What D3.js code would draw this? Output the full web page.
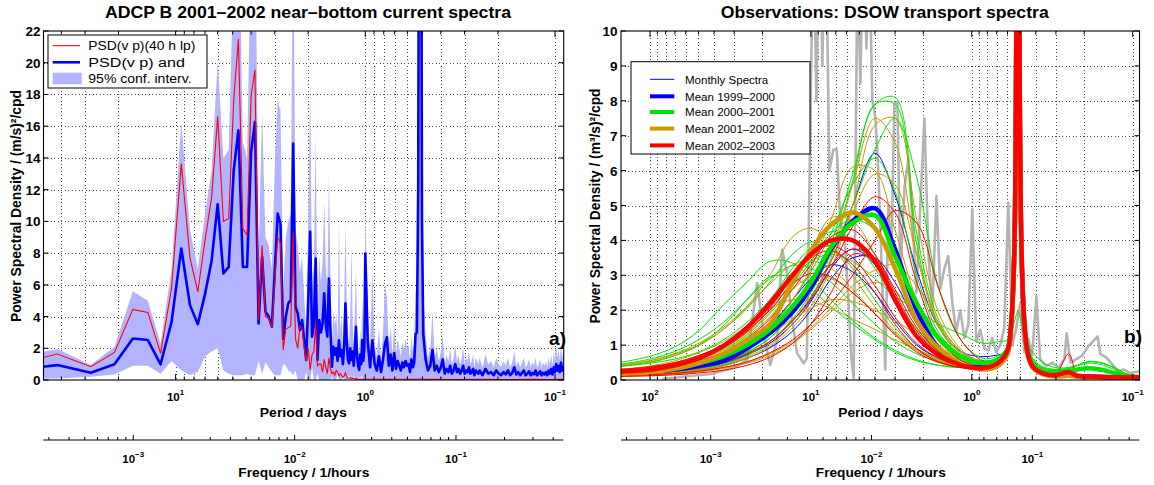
<!DOCTYPE html>
<html><head><meta charset="utf-8">
<script src="https://cdn.jsdelivr.net/npm/d3@7"></script>
<style>
body{margin:0;background:#fff;}
svg text{font-family:"Liberation Sans", Arial, Helvetica, sans-serif;}
</style></head><body>
<svg id="c" width="1154" height="485"></svg>
<script>
// ====================== DATA ======================
// ---- Panel a) ADCP B: FFT bins k=1..84 (bin step 1/84 cpd) ----
const adcpBinStepCpd = 1 / 84;
const adcpBlueLow = [0.52,0.94,0.46,0.99,2.62,2.52,0.99,3.67,8.29,4.72,
 3.52,5.4,7.5,11.08,6.72,7.13,13.2,15.74,7.13,7.13,
 14.37,16.26,3.57,7.76,4.3,4.0,3.36,6.9,10.49,9.86,
 2.6,4.0,4.83,5.04,14.9,4.6,4.2,3.15,3.78,2.52,
 1.26,5.0,9.34,2.73,3.5,7.66,1.26,3.78,3.0,3.57,
 5.46,3.5,2.73,6.4,3.2,0.84,2.1,1.6,2.0,1.2,
 2.5,1.5,1.89,1.0,2.2,4.83,2.5,1.3,1.05,2.0,
 1.26,1.8,0.9,2.1,3.36,1.5,0.9,0.63,1.6,1.0,
 2.52,1.2,2.0,7.97];
const adcpRedLow = [0.77,1.64,0.84,1.74,4.45,4.26,1.68,5.8,13.64,7.7,
 5.56,8.8,11.5,16.6,10.0,10.17,17.6,21.5,9.55,9.13,
 17.9,19.56,3.8,8.5,4.0,3.9,3.3,6.2,9.0,8.6,
 1.9,3.2,3.3,3.4,9.3,2.6,2.0,3.4,3.3,2.0,
 1.2,2.0,0.63,1.6,1.8,3.6,0.9,1.0,1.0,0.5,
 1.3,0.8,0.4,1.4,0.7,0.4,0.5,0.3,0.6,0.5,
 0.25,0.4,0.3,0.15,0.25,0.45,0.2,0.12,0.1,0.15,
 0.1,0.12,0.08,0.06,0.1,0.06,0.05,0.04,0.05,0.04,
 0.04,0.03,0.05,0.05];
const adcpCiUpLow = [1.3,1.95,0.95,2.1,5.6,5.0,2.3,7.0,16.26,9.5,
 7.0,10.5,13.2,20.1,14.0,14.5,26,31,15,14,
 28,32,7.5,16.9,9.0,8.5,7.0,13.5,17.6,17.0,
 5.5,9.0,10.0,10.5,30,9.5,8.5,6.8,7.8,5.3,
 2.8,10.0,18.6,5.8,7.2,15.5,2.8,7.8,6.2,7.4,
 11.2,7.2,5.8,13.0,6.6,1.9,4.4,3.4,4.2,2.6,
 10.1,3.1,3.9,2.2,4.5,9.9,5.1,2.8,2.3,4.1,
 8.5,3.7,2.0,4.3,6.9,3.1,2.0,1.5,3.3,2.1,
 5.2,2.5,4.0,10.5];
const adcpCiLoLow = [0,0.1,0.2,0.35,0.9,0.9,0.4,1.2,0.6,0.3,
 0.5,1.5,1.8,2.0,0.6,0.4,0.3,0.3,0.3,0.4,
 0.3,0.3,1.2,0.4,1.1,0.8,0.5,0.3,0.3,0.3,
 1.0,0.9,0.6,0.5,0.3,0.6,0,0,0,0,
 0.5,0,0,0.8,0,0,0.4,0,0,0,
 0,0,0,0,0,0.2,0,0,0,0.4,
 0,0,0,0.3,0,0,0,0,0.3,0,
 0,0,0.3,0,0,0,0,0.2,0,0.3,
 0,0,0,0];
// tail above 1 cpd: frequencies (cpd) 1.03..1.99 step .03, 2.02..3.94 step .06, 4.0..11.2 step .15
const adcpTailFreq = [
  ...d3.range(33).map(i => 1.03 + 0.03 * i),
  ...d3.range(33).map(i => 2.02 + 0.06 * i),
  ...d3.range(49).map(i => 4.0 + 0.15 * i)];
const adcpBlueTail = [
 2.4,0.8,2.5,1.0,0.6,1.5,0.5,1.3,2.3,2.7, 0.9,1.6,0.6,1.7,0.7,1.2,0.9,0.6,1.1,0.8,
 1.2,0.9,1.0,0.5,1.3,0.8,1.1,2.9,3.0,12, 45,45,10,
 2.9,1.3,0.6,0.9,1.9,0.6,0.9,0.5,0.8,1.3, 0.4,0.7,0.5,0.9,0.4,0.6,1.0,0.5,0.7,0.4,
 0.6,0.9,0.4,0.6,0.5,0.8,0.4,0.5,0.7,0.3, 0.6,0.5,0.4,
 0.6,0.3,0.7,0.4,0.5,0.3,0.6,0.4,0.3,0.5, 0.35,0.6,0.3,0.45,0.8,0.35,0.5,0.3,0.45,0.6,
 0.3,0.4,0.55,0.3,0.45,0.35,0.6,0.3,0.4,0.55, 0.3,0.45,0.35,0.5,0.3,0.6,0.4,0.7,0.35,0.8,
 0.5,1.0,0.6,0.9,0.5,1.1,0.6,0.8,0.5];
const adcpCiUpTail = [
 4.5,2.0,7.0,2.2,1.5,3.3,1.3,3.0,6.0,5.2, 2.0,3.4,1.6,3.6,1.7,2.6,2.0,1.5,2.4,1.9,
 2.6,2.0,2.2,1.3,2.8,1.8,2.4,5.6,6.0,24, 60,60,20,
 5.5,2.8,1.4,2.0,4.3,1.4,2.0,1.2,1.8,2.8, 1.0,1.6,1.2,2.0,1.0,1.4,2.2,1.2,1.6,1.0,
 1.4,2.0,1.0,1.4,1.2,1.8,1.0,1.2,1.6,0.8, 1.4,1.2,1.0,
 1.4,0.8,1.6,1.0,1.2,0.8,1.4,1.0,0.8,1.2, 0.9,1.4,0.8,1.1,1.8,0.9,1.2,0.8,1.1,1.4,
 0.8,1.0,1.3,0.8,1.1,0.9,1.4,0.8,1.0,1.3, 0.8,1.1,0.9,1.2,0.8,1.4,1.0,1.6,0.9,1.8,
 1.2,2.1,1.4,2.0,1.2,2.3,1.4,1.8,1.2];
const adcpRedTailFreq = [1.02,1.3,1.7,2.2,3,4,5.5,7.5,9.5,11.2];
const adcpRedTail = [0.05,0.04,0.05,0.04,0.03,0.04,0.03,0.04,0.03,0.04];

// ---- Panel b) DSOW transport spectra ----
const dsowRawPeriod = [84,60,42,30,24.9,21.6,19.6,17.9,16.2,15.1,14.1,13.1,12.2,11.1,10.6,10.07,9.65,9.24,8.85,8.49,
 8.13,7.68,7.25,6.9,6.56,6.19,5.85,5.6,5.42,5.14,4.93,4.72,4.52,4.33,4.15,3.97,3.81,3.65,3.45,3.3,
 3.16,3.03,2.9,2.78,2.62,2.48,2.34,2.21,2.09,1.97,1.86,1.76,1.66,1.57,1.48,1.4,1.32,1.25,1.18,1.11,
 1.05,0.993,0.938,0.885,0.836,0.79,0.746,0.705,0.665,0.628,0.593,0.56,0.529,0.5,0.472,0.446,0.421,0.397,0.376,0.345,
 0.316,0.29,0.266,0.257,0.244,0.224,0.206,0.189,0.173,0.165,0.159,0.146,0.134,0.123,0.113,0.104,0.0912];
const dsowRawPsd = [0.03,0.1,0.17,0.35,0.58,2.78,1.25,0.43,1.15,3.74,3.07,1.73,0.77,0.48,0.62,7.5,13,8.0,14,9.0,
 14,6.0,6.6,6.6,4.5,4.2,2.3,0.6,0.05,12,8.5,13,9.5,12,8.0,7.5,6.0,3.5,0.3,5.0,
 3.5,7.9,7.96,3.0,5.5,6.33,4.6,2.5,5.0,7.5,3.6,2.0,5.27,2.6,3.2,3.55,2.2,1.4,2.0,1.2,
 1.6,4.89,1.1,1.44,0.9,0.85,1.2,0.8,1.0,1.5,5.08,1.0,1.5,2.2,0.8,1.2,0.7,2.4,0.6,0.4,
 0.5,0.35,0.6,1.34,0.5,0.6,0.7,0.96,1.15,1.25,0.75,0.65,0.45,0.25,0.3,0.2,0.25];

// monthly spectra: low-frequency part on humpPeriods, tidal part on tailPeriods
const humpPeriods = [155,100,70,50,35,25,18,13,10,7.5,5.5,4,3,2.2,1.6,1.15,0.85,0.68];
const tailPeriods = [0.6,0.57,0.545,0.53,0.5175,0.505,0.49,0.47,0.45,0.42,0.36,0.3,0.25,0.22,0.19,0.16,0.13,0.11,0.09];
const tailA = [0.75,1.5,3.5,9,40,9,3.5,1.5,0.8,0.42,0.2,0.13,0.12,0.1,0.09,0.08,0.07,0.06,0.06];
const tailB = [0.95,1.6,3.6,9,40,9,3.6,1.7,1.0,0.62,0.36,0.3,0.33,0.42,0.52,0.5,0.35,0.18,0.08];
const tailC = [0.85,1.5,3.5,9,40,9,3.5,1.6,0.9,0.5,0.28,0.2,0.24,0.3,0.33,0.3,0.2,0.1,0.07];
const tailD = [0.75,1.5,3.5,9,40,9,3.5,1.5,0.8,0.42,0.2,0.18,0.75,0.14,0.1,0.08,0.07,0.06,0.06];
const tailE = [1.15,1.35,1.65,1.85,1.97,1.85,1.6,1.3,1.05,0.8,0.5,0.35,0.36,0.42,0.48,0.45,0.3,0.15,0.08];

const monthly1999Humps = [
 [0.15,0.19,0.25,0.34,0.5,0.75,1.1,1.7,2.35,3.4,5.0,6.5,5.3,3.15,1.5,0.8,0.67,0.72],
 [0.14,0.18,0.24,0.33,0.48,0.72,1.05,1.6,2.25,3.2,3.75,3.3,2.2,1.2,0.65,0.42,0.38,0.5],
 [0.12,0.15,0.2,0.28,0.41,0.62,0.92,1.4,2.0,2.9,3.5,3.5,2.8,1.6,0.8,0.45,0.38,0.5],
 [0.2,0.26,0.35,0.48,0.7,1.05,1.55,2.3,2.9,3.3,3.1,2.5,1.7,1.0,0.62,0.45,0.45,0.55]];
const monthly1999Tails = ["A","A","A","A"];
const monthly2000Humps = [
 [0.15,0.18,0.24,0.33,0.5,0.78,1.2,1.9,2.6,3.9,5.9,7.9,8.1,4.2,1.7,0.8,0.55,0.65],
 [0.14,0.17,0.22,0.3,0.45,0.7,1.1,1.75,2.5,3.7,5.7,7.9,7.9,3.9,1.55,0.75,0.52,0.62],
 [0.16,0.2,0.26,0.36,0.52,0.8,1.2,1.9,2.6,3.6,5.0,6.6,7.5,5.8,2.6,1.1,0.62,0.7],
 [0.2,0.25,0.32,0.45,0.65,1.0,1.5,2.3,3.1,4.2,5.6,6.35,5.4,3.0,1.35,0.7,0.5,0.6],
 [0.4,0.48,0.6,0.8,1.15,1.65,2.3,3.2,3.8,4.25,4.0,3.2,2.3,1.45,0.85,0.55,0.45,0.6],
 [0.5,0.68,0.95,1.4,2.15,2.8,3.4,3.35,2.9,2.3,1.7,1.2,0.85,0.58,0.42,0.35,0.36,0.55],
 [0.45,0.6,0.82,1.15,1.65,2.3,2.9,3.28,3.2,2.8,2.2,1.6,1.1,0.75,0.52,0.42,0.4,0.55],
 [0.3,0.38,0.5,0.7,1.0,1.5,2.1,2.9,3.4,3.6,3.4,2.9,2.4,2.0,1.6,1.3,1.05,1.1],
 [0.3,0.36,0.46,0.62,0.88,1.3,1.9,2.7,3.4,4.2,4.6,4.3,3.3,2.0,1.1,0.62,0.48,0.6],
 [0.42,0.55,0.74,1.0,1.45,2.05,2.8,3.6,3.95,3.8,3.2,2.3,1.5,0.9,0.58,0.44,0.42,0.55],
 [0.38,0.5,0.7,1.0,1.55,2.3,2.95,2.95,2.6,2.1,1.6,1.15,0.8,0.55,0.42,0.36,0.38,0.55]];
const monthly2000Tails = ["B","C","B","C","A","C","B","E","A","C","A"];
const monthly2001Humps = [
 [0.12,0.15,0.2,0.27,0.4,0.62,0.95,1.5,2.1,3.2,5.0,7.3,7.5,4.6,1.9,0.85,0.5,0.55],
 [0.13,0.16,0.21,0.29,0.43,0.66,1.0,1.6,2.3,3.5,5.6,7.5,6.8,3.6,1.5,0.7,0.45,0.5],
 [0.18,0.22,0.3,0.42,0.62,0.95,1.45,2.3,3.2,4.6,6.1,6.0,4.3,2.3,1.1,0.55,0.4,0.5],
 [0.15,0.19,0.25,0.34,0.5,0.75,1.1,1.7,2.4,3.4,4.8,5.9,5.6,3.6,1.6,0.75,0.48,0.55],
 [0.3,0.37,0.48,0.65,0.92,1.35,1.95,2.9,3.7,4.65,4.55,3.6,2.4,1.4,0.8,0.48,0.38,0.5],
 [0.42,0.56,0.76,1.05,1.5,2.1,2.75,3.3,3.42,3.2,2.6,1.9,1.3,0.85,0.55,0.4,0.35,0.48],
 [0.12,0.15,0.19,0.25,0.35,0.5,0.75,1.1,1.5,2.05,2.7,3.15,3.3,2.7,1.6,0.8,0.45,0.5],
 [0.2,0.26,0.35,0.48,0.68,0.95,1.3,1.75,2.05,2.3,2.25,2.0,1.7,1.3,0.9,0.6,0.42,0.45],
 [0.25,0.32,0.43,0.6,0.85,1.25,1.8,2.6,2.95,2.9,2.5,1.9,1.35,0.85,0.52,0.36,0.32,0.45],
 [0.1,0.13,0.17,0.23,0.33,0.48,0.7,1.05,1.45,1.95,2.5,2.8,2.55,1.8,1.0,0.55,0.38,0.45],
 [0.4,0.52,0.7,0.98,1.45,2.1,3.0,4.1,4.35,3.9,3.0,2.1,1.4,0.9,0.58,0.42,0.38,0.5],
 [0.3,0.4,0.55,0.78,1.1,1.55,2.05,2.3,2.25,2.05,1.75,1.45,1.15,0.88,0.62,0.45,0.38,0.45]];
const monthly2001Tails = ["A","A","A","A","A","C","A","A","A","A","A","A"];
const monthly2002Humps = [
 [0.15,0.19,0.25,0.34,0.5,0.75,1.1,1.7,2.3,3.2,4.4,5.25,4.8,2.8,1.2,0.55,0.38,0.5],
 [0.12,0.15,0.19,0.25,0.36,0.52,0.78,1.15,1.6,2.2,3.0,4.0,4.85,4.5,2.6,1.1,0.55,0.55],
 [0.25,0.31,0.41,0.56,0.8,1.2,1.75,2.6,3.3,4.1,4.3,3.6,2.5,1.4,0.75,0.45,0.36,0.5],
 [0.3,0.38,0.5,0.7,1.0,1.45,2.1,3.0,3.6,3.85,3.5,2.7,1.8,1.05,0.62,0.4,0.35,0.48],
 [0.18,0.23,0.3,0.42,0.6,0.9,1.3,1.95,2.6,3.3,3.75,3.5,2.6,1.5,0.8,0.45,0.36,0.48],
 [0.1,0.12,0.15,0.2,0.28,0.42,0.65,1.05,1.6,2.5,3.6,3.4,2.4,1.3,0.68,0.4,0.32,0.48],
 [0.28,0.36,0.48,0.66,0.95,1.4,2.0,2.75,3.05,2.95,2.5,1.9,1.3,0.8,0.5,0.35,0.32,0.48],
 [0.26,0.33,0.45,0.63,0.92,1.38,2.05,2.95,3.5,3.7,3.3,2.5,1.6,0.9,0.52,0.36,0.33,0.48]];
const monthly2002Tails = ["A","A","D","A","A","A","A","A"];

const mean1999Hump = [0.2,0.24,0.3,0.4,0.55,0.9,1.35,1.95,2.65,3.75,4.55,4.92,3.75,2.0,0.9,0.42,0.37,0.5];
const mean1999Tail = [0.8,1.5,3.5,9,40,9,3.5,1.5,0.78,0.4,0.2,0.13,0.14,0.11,0.1,0.09,0.08,0.07,0.07];
const mean2000Hump = [0.22,0.27,0.35,0.48,0.68,1.0,1.45,2.1,2.8,3.8,4.5,4.72,3.55,2.2,1.2,0.65,0.48,0.6];
const mean2000Tail = [0.9,1.6,3.6,9.2,40,9.2,3.6,1.65,0.9,0.5,0.27,0.22,0.26,0.3,0.34,0.3,0.2,0.12,0.08];
const mean2001Hump = [0.18,0.22,0.32,0.48,0.75,1.15,1.6,2.8,3.7,4.45,4.8,4.35,3.2,1.7,0.9,0.45,0.3,0.42];
const mean2001Tail = [0.75,1.5,3.5,9,40,9,3.5,1.5,0.75,0.36,0.16,0.1,0.12,0.09,0.08,0.07,0.06,0.06,0.06];
const mean2002Hump = [0.24,0.29,0.42,0.62,0.98,1.5,2.2,3.0,3.6,4.0,4.0,3.4,2.3,1.25,0.72,0.42,0.34,0.5];
const mean2002Tail = [0.85,1.6,3.6,9.5,40,9.5,3.6,1.6,0.8,0.4,0.19,0.14,0.22,0.12,0.1,0.09,0.08,0.08,0.08];

// labels
const yTicksA = d3.range(0, 23, 2);
const yTicksB = d3.range(0, 11, 1);
const legendA = ["PSD(v p)(40 h lp)", "PSD(v p) and", "95% conf. interv."];
const legendB = ["Monthly Spectra", "Mean 1999\u20132000", "Mean 2000\u20132001", "Mean 2001\u20132002", "Mean 2002\u20132003"];

// ====================== DRAWING ======================
const COL = {blue:"#0000ff", red:"#ff0000", green:"#00e600", gold:"#c89b00", grey:"#b4b4b4", ci:"#b3b3ff"};
const svg = d3.select("#c");
const LP = {x0:43.5, x1:563.7, y0:31, y1:380};
const RP = {x0:621, x1:1139.5, y0:31, y1:380};
const xA = d3.scaleLog().domain([49.7, 0.09]).range([LP.x0, LP.x1]);
const yA = d3.scaleLinear().domain([0, 22]).range([LP.y1, LP.y0]);
const xB = d3.scaleLog().domain([151.5, 0.0907]).range([RP.x0, RP.x1]);
const yB = d3.scaleLinear().domain([0, 10]).range([RP.y1, RP.y0]);
const fA = d3.scaleLog().domain([2.77e-4, 0.4624]).range([43.3, 563.3]);
const fB = d3.scaleLog().domain([2.77e-4, 0.4624]).range([621, 1139.3]);

function logTicks(scale) {
  const d = scale.domain(), lo = Math.min(...d), hi = Math.max(...d), out = [];
  for (let e = Math.floor(Math.log10(lo)); e <= Math.ceil(Math.log10(hi)); e++)
    for (let m = 1; m <= 9; m++) {
      const v = m * Math.pow(10, e);
      if (v >= lo * 1.0001 && v <= hi / 1.0001) out.push({v, major: m === 1, e});
    }
  return out;
}

const defs = svg.append("defs");
[["clipA", LP], ["clipB", RP]].forEach(([id, P]) => {
  defs.append("clipPath").attr("id", id).append("rect")
    .attr("x", P.x0).attr("y", P.y0).attr("width", P.x1 - P.x0).attr("height", P.y1 - P.y0);
});

function grid(P, x, y, yt) {
  const g = svg.append("g").attr("shape-rendering", "crispEdges");
  const xt = logTicks(x);
  g.selectAll(null).data(xt).join("line")
    .attr("x1", d => Math.round(x(d.v)) + 0.5).attr("x2", d => Math.round(x(d.v)) + 0.5)
    .attr("y1", P.y0).attr("y2", P.y1)
    .attr("stroke", "#000").attr("stroke-width", 1).attr("stroke-dasharray", "1,2.5").attr("opacity", 0.7);
  g.selectAll(null).data(yt.filter(v => v > 0 && v < y.domain()[1])).join("line")
    .attr("y1", d => Math.round(y(d)) + 0.5).attr("y2", d => Math.round(y(d)) + 0.5)
    .attr("x1", P.x0).attr("x2", P.x1)
    .attr("stroke", "#000").attr("stroke-width", 1).attr("stroke-dasharray", "1,2.5").attr("opacity", 0.7);
}

function frame(P, x, y, yt, labelX, tickExps) {
  const g = svg.append("g");
  g.append("rect").attr("x", P.x0).attr("y", P.y0).attr("width", P.x1 - P.x0).attr("height", P.y1 - P.y0)
    .attr("fill", "none").attr("stroke", "#000").attr("stroke-width", 1.1);
  const xt = logTicks(x);
  xt.forEach(t => {
    const xx = x(t.v), L = t.major ? 6 : 3.5;
    g.append("line").attr("x1", xx).attr("x2", xx).attr("y1", P.y1).attr("y2", P.y1 - L).attr("stroke", "#000");
    g.append("line").attr("x1", xx).attr("x2", xx).attr("y1", P.y0).attr("y2", P.y0 + L).attr("stroke", "#000");
  });
  yt.forEach(v => {
    const yy = y(v);
    g.append("line").attr("x1", P.x0).attr("x2", P.x0 + 5).attr("y1", yy).attr("y2", yy).attr("stroke", "#000");
    g.append("line").attr("x1", P.x1).attr("x2", P.x1 - 5).attr("y1", yy).attr("y2", yy).attr("stroke", "#000");
    g.append("text").attr("x", labelX).attr("y", yy + 5).attr("text-anchor", "end")
      .attr("font-size", 13.5).attr("font-weight", "bold").text(v);
  });
  tickExps.forEach(e => supLabel(g, x(Math.pow(10, e)), 400.5, e));
}

function supLabel(g, xx, yy, e) {
  const t = g.append("text").attr("x", xx).attr("y", yy).attr("text-anchor", "middle")
    .attr("font-weight", "bold").attr("font-size", 11.5);
  t.append("tspan").text("10");
  t.append("tspan").attr("dy", -5.5).attr("font-size", 8).text(e < 0 ? "\u2212" + (-e) : String(e));
}

function freqAxis(f, yy) {
  const g = svg.append("g");
  const r = f.range();
  g.append("line").attr("x1", r[0]).attr("x2", r[1]).attr("y1", yy).attr("y2", yy).attr("stroke", "#000").attr("stroke-width", 1.2);
  logTicks(f).forEach(t => {
    g.append("line").attr("x1", f(t.v)).attr("x2", f(t.v)).attr("y1", yy).attr("y2", yy - (t.major ? 5 : 3)).attr("stroke", "#000");
  });
  [-3, -2, -1].forEach(e => supLabel(g, f(Math.pow(10, e)), 462.5, e));
}

function fitText(x, y, str, size, len, opts = {}) {
  const t = svg.append("text").attr("x", x).attr("y", y).attr("font-size", size)
    .attr("text-anchor", opts.anchor || "middle").attr("font-weight", opts.weight || "bold")
    .attr("textLength", len).attr("lengthAdjust", "spacingAndGlyphs").text(str);
  if (opts.rotate) t.attr("transform", `rotate(-90,${x},${y})`);
  return t;
}

// ---------- Panel a ----------
grid(LP, xA, yA, yTicksA);
const adcpAll = adcpBlueLow.map((b, i) => ({f: (i + 1) * adcpBinStepCpd, b, up: adcpCiUpLow[i], lo: adcpCiLoLow[i]}))
  .concat(adcpTailFreq.map((f, i) => ({f, b: adcpBlueTail[i], up: adcpCiUpTail[i], lo: 0})));
const adcpRedAll = adcpRedLow.map((r, i) => ({f: (i + 1) * adcpBinStepCpd, r}))
  .concat(adcpRedTailFreq.map((f, i) => ({f, r: adcpRedTail[i]})));
const gA = svg.append("g").attr("clip-path", "url(#clipA)");
gA.append("path").datum(adcpAll).attr("fill", COL.ci)
  .attr("d", d3.area().x(d => xA(1 / d.f)).y0(d => yA(d.lo)).y1(d => yA(d.up)));
gA.append("path").datum(adcpAll).attr("fill", "none").attr("stroke", COL.blue).attr("stroke-width", 2.6)
  .attr("stroke-linejoin", "round").attr("d", d3.line().x(d => xA(1 / d.f)).y(d => yA(d.b)));
gA.append("path").datum(adcpRedAll).attr("fill", "none").attr("stroke", COL.red).attr("stroke-width", 1.1)
  .attr("d", d3.line().x(d => xA(1 / d.f)).y(d => yA(d.r)));
frame(LP, xA, yA, yTicksA, 40.5, [1, 0, -1]);

// ---------- Panel b ----------
grid(RP, xB, yB, yTicksB);
const gB = svg.append("g").attr("clip-path", "url(#clipB)");
const tails = {A: tailA, B: tailB, C: tailC, D: tailD, E: tailE};
const allPeriods = humpPeriods.concat(tailPeriods);
const curveB = d3.line().x(d => xB(d[0])).y(d => yB(d[1])).curve(d3.curveCatmullRom.alpha(0.5));
const mk = (hump, tail) => allPeriods.map((p, i) => [p, i < hump.length ? hump[i] : tail[i - hump.length]]);
gB.append("path").datum(dsowRawPeriod.map((p, i) => [p, dsowRawPsd[i]])).attr("fill", "none")
  .attr("stroke", COL.grey).attr("stroke-width", 2.6).attr("stroke-linejoin", "round")
  .attr("d", d3.line().x(d => xB(d[0])).y(d => yB(d[1])));
[[monthly1999Humps, monthly1999Tails, COL.blue], [monthly2000Humps, monthly2000Tails, COL.green],
 [monthly2001Humps, monthly2001Tails, COL.gold], [monthly2002Humps, monthly2002Tails, COL.red]].forEach(([H, T, c]) => {
  H.forEach((h, i) => gB.append("path").datum(mk(h, tails[T[i]])).attr("fill", "none")
    .attr("stroke", c).attr("stroke-width", 1).attr("d", curveB));
});
[[mean1999Hump, mean1999Tail, COL.blue], [mean2000Hump, mean2000Tail, COL.green],
 [mean2001Hump, mean2001Tail, COL.gold], [mean2002Hump, mean2002Tail, COL.red]].forEach(([h, t, c]) => {
  gB.append("path").datum(mk(h, t)).attr("fill", "none").attr("stroke", c).attr("stroke-width", 4.5)
    .attr("stroke-linejoin", "round").attr("d", curveB);
});
frame(RP, xB, yB, yTicksB, 617.5, [2, 1, 0, -1]);

// ---------- frequency axes ----------
freqAxis(fA, 440);
freqAxis(fB, 440);

// ---------- legends ----------
const lgA = svg.append("g");
lgA.append("rect").attr("x", 48).attr("y", 35).attr("width", 159).attr("height", 53).attr("fill", "#fff").attr("stroke", "#000");
lgA.append("line").attr("x1", 52.7).attr("x2", 80).attr("y1", 45.7).attr("y2", 45.7).attr("stroke", COL.red).attr("stroke-width", 1.1);
lgA.append("line").attr("x1", 52.7).attr("x2", 80).attr("y1", 62.3).attr("y2", 62.3).attr("stroke", COL.blue).attr("stroke-width", 2.6);
lgA.append("rect").attr("x", 52.7).attr("y", 72.7).attr("width", 29).attr("height", 11.6).attr("fill", COL.ci);
[[legendA[0], 50, 107], [legendA[1], 66.6, 96.7], [legendA[2], 82.8, 103.3]].forEach(([s, y, w]) =>
  fitText(88.3, y, s, 12, w, {anchor: "start", weight: "normal"}));

const lgB = svg.append("g");
lgB.append("rect").attr("x", 631).attr("y", 61.7).attr("width", 179).attr("height", 92.3).attr("fill", "#fff").attr("stroke", "#000");
const lgBy = [79.3, 96.3, 112, 128.6, 145.4];
const lgBc = [COL.blue, COL.blue, COL.green, COL.gold, COL.red];
lgBy.forEach((y, i) => {
  lgB.append("line").attr("x1", 650).attr("x2", 674.3).attr("y1", y).attr("y2", y)
    .attr("stroke", lgBc[i]).attr("stroke-width", i === 0 ? 1 : 4);
  fitText(685, y + 4.2, legendB[i], 11.5, i === 0 ? 83.3 : 90, {anchor: "start", weight: "normal"});
});

// ---------- titles and labels ----------
fitText(308, 18.3, "ADCP B 2001\u20132002 near\u2013bottom current spectra", 17, 406);
fitText(884.7, 18.3, "Observations: DSOW transport spectra", 17, 328);
fitText(20.5, 206, "Power Spectral Density / (m/s)\u00b2/cpd", 14, 232, {rotate: true});
fitText(600, 206, "Power Spectral Density / (m\u00b3/s)\u00b2/cpd", 14, 235, {rotate: true});
fitText(303.3, 416.7, "Period / days", 12, 87);
fitText(880.8, 416.7, "Period / days", 12, 85);
fitText(303.8, 476.5, "Frequency / 1/hours", 12, 131);
fitText(880.8, 476.5, "Frequency / 1/hours", 12, 130);
svg.append("text").attr("x", 566).attr("y", 345).attr("text-anchor", "end").attr("font-size", 19)
  .attr("font-weight", "bold").text("a)");
svg.append("text").attr("x", 1142).attr("y", 343).attr("text-anchor", "end").attr("font-size", 19)
  .attr("font-weight", "bold").text("b)");
</script>
</body></html>
